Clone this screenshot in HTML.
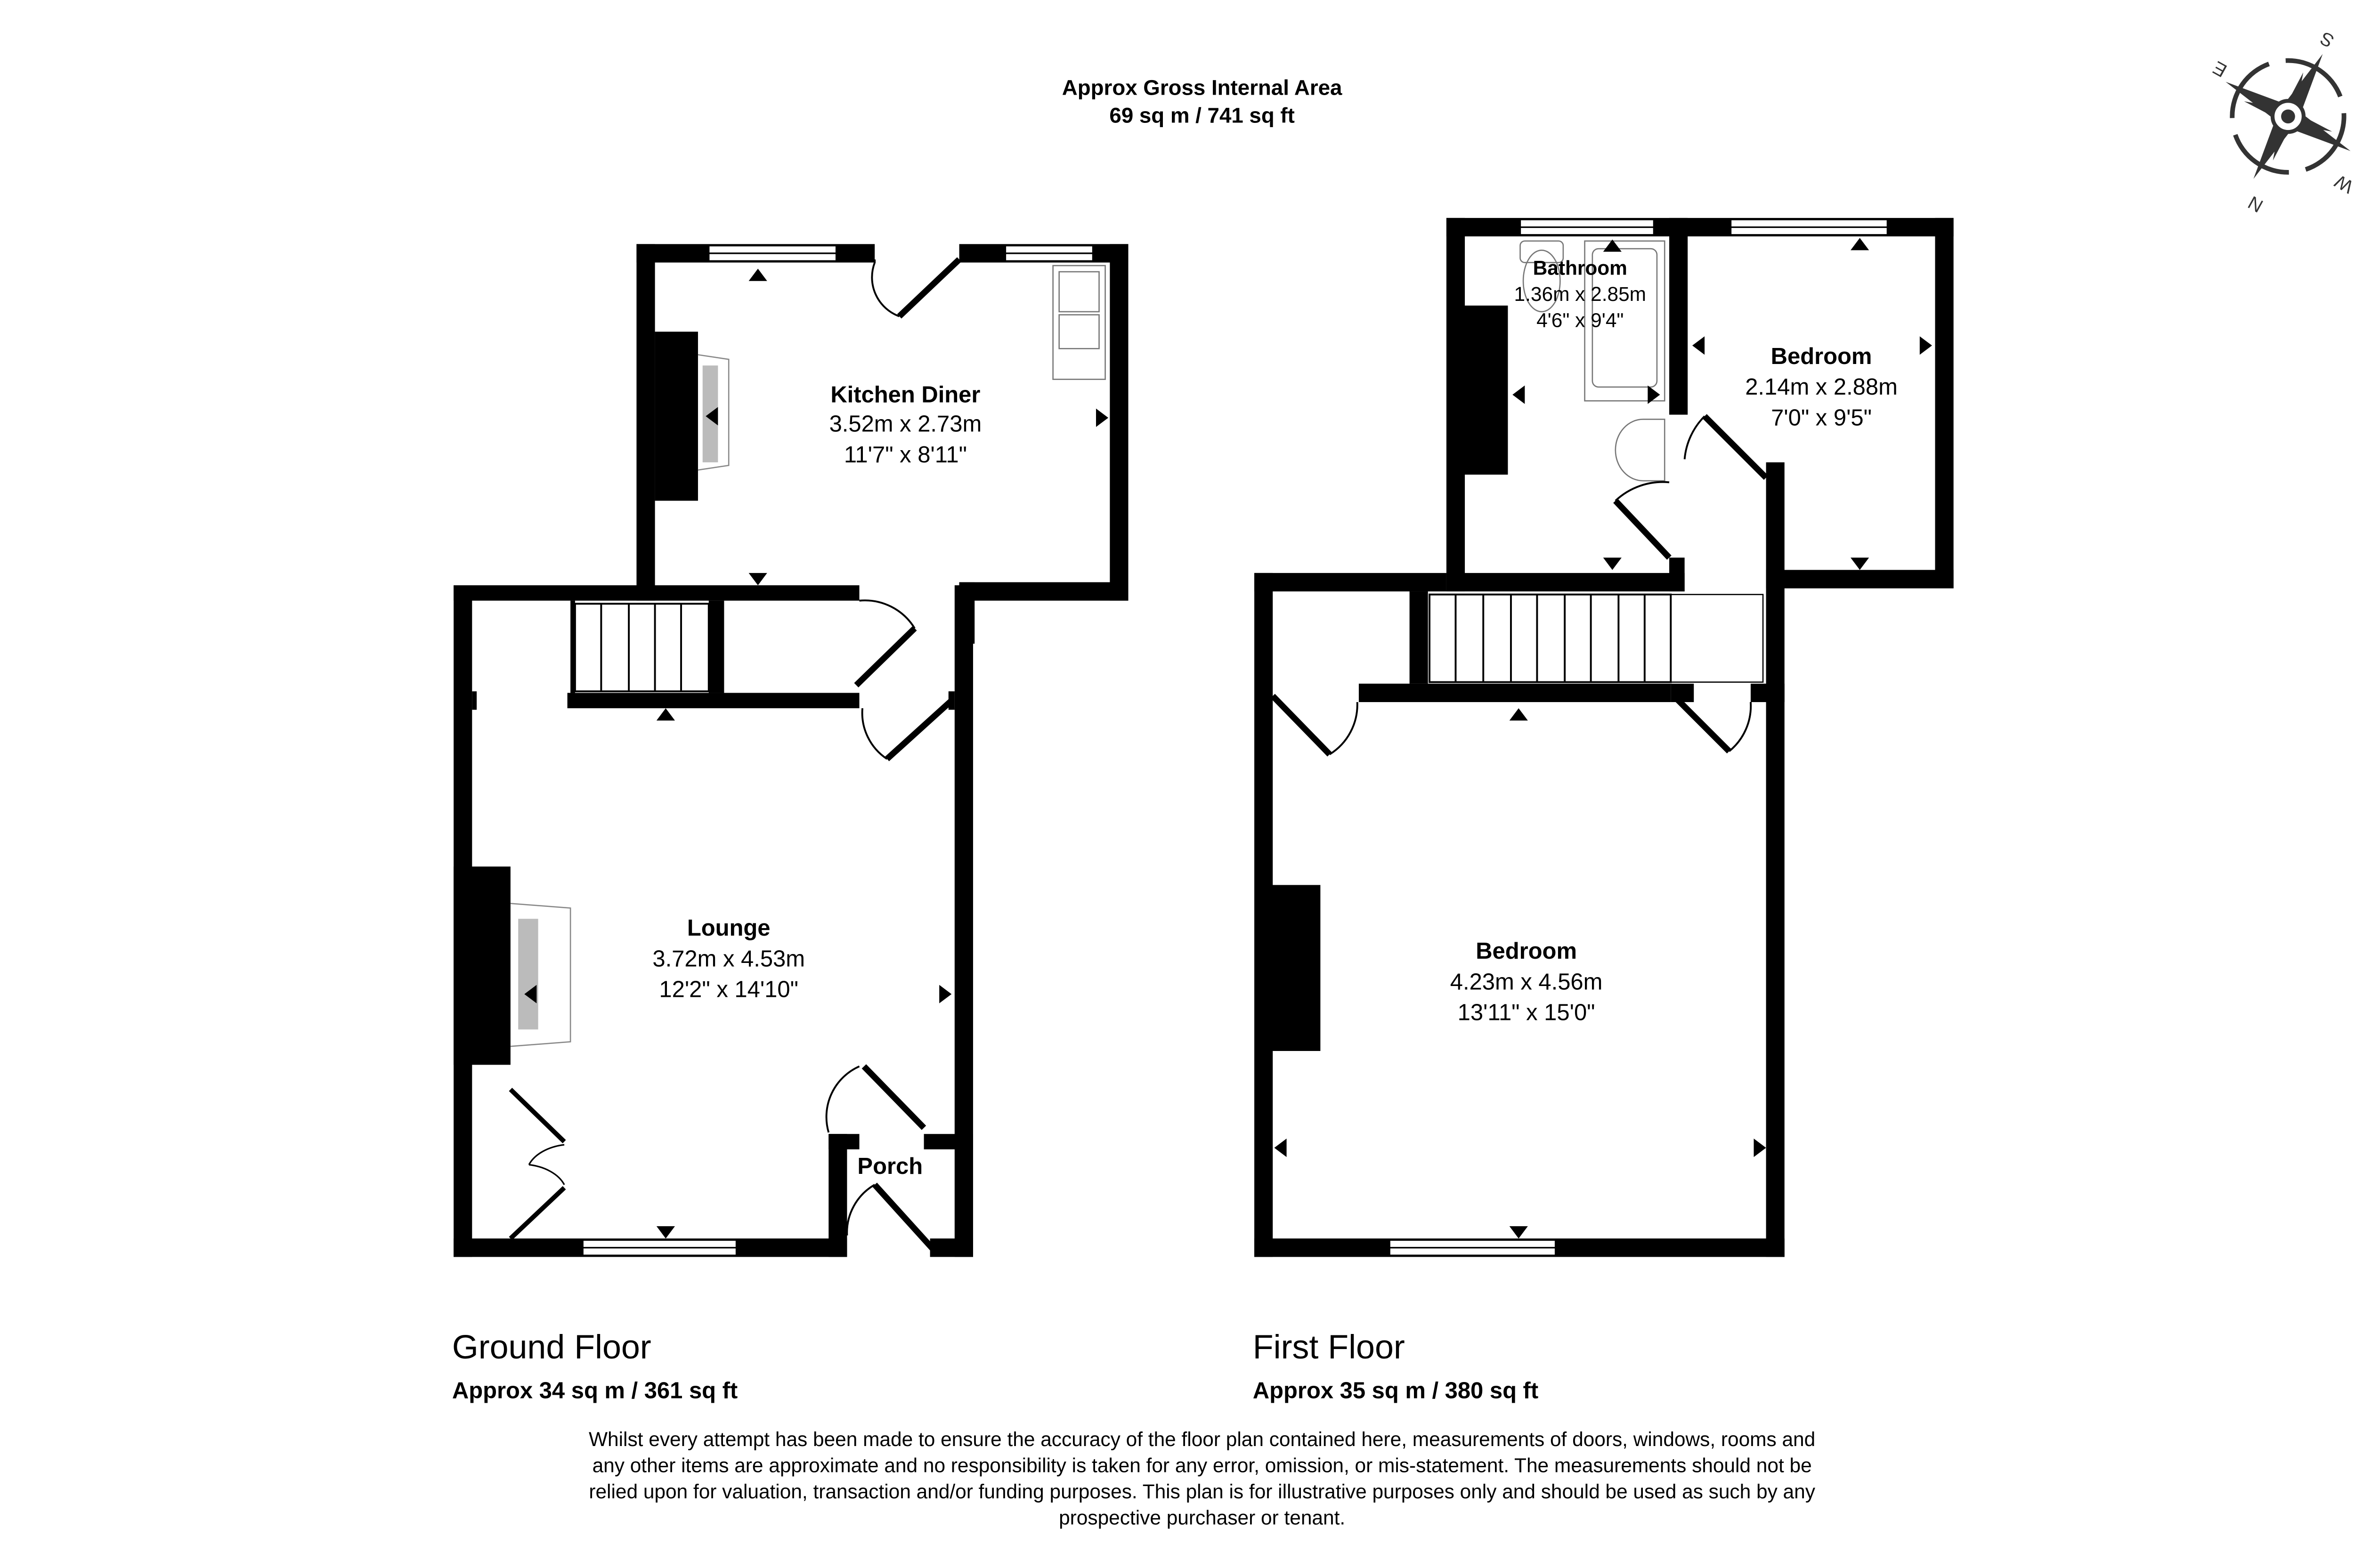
<!DOCTYPE html>
<html><head><meta charset="utf-8"><style>html,body{margin:0;padding:0;background:#fff}svg{display:block}</style></head><body>
<svg width="5115" height="3330" viewBox="0 0 1552 1010" preserveAspectRatio="none" xmlns="http://www.w3.org/2000/svg" font-family="Liberation Sans, Arial, sans-serif">
<rect width="1552" height="1010" fill="#fff"/>
<g transform="translate(-0.8,0.8) scale(0.990)">
<g fill="#000">
<rect x="415" y="158" width="12" height="232"/>
<rect x="415" y="158" width="155" height="12"/>
<rect x="625" y="158" width="110" height="12"/>
<rect x="723" y="158" width="12" height="232"/>
<rect x="625" y="378" width="110" height="12"/>
<rect x="625" y="378" width="10" height="40"/>
<rect x="296" y="380" width="264" height="10"/>
<rect x="296" y="380" width="12" height="437"/>
<rect x="308" y="449" width="3" height="12"/>
<rect x="296" y="805" width="256" height="12"/>
<rect x="622" y="380" width="12" height="437"/>
<rect x="618" y="449" width="4" height="12"/>
<rect x="540" y="737" width="12" height="80"/>
<rect x="540" y="737" width="20" height="10"/>
<rect x="602" y="737" width="32" height="10"/>
<rect x="606" y="805" width="28" height="12"/>
<rect x="370" y="450" width="190" height="10"/>
<rect x="462" y="390" width="10" height="60"/>
<rect x="372" y="390" width="3" height="60"/>
<rect x="296" y="563" width="37" height="129"/>
<rect x="427" y="215" width="28" height="110"/>
<rect x="817" y="372" width="12" height="445"/>
<rect x="817" y="372" width="125" height="12"/>
<rect x="817" y="805" width="345" height="12"/>
<rect x="1150" y="300" width="12" height="517"/>
<rect x="885" y="444" width="203" height="12"/>
<rect x="918" y="384" width="12" height="60"/>
<rect x="942" y="141" width="12" height="243"/>
<rect x="942" y="141" width="330" height="12"/>
<rect x="1087" y="141" width="12" height="128"/>
<rect x="1260" y="141" width="12" height="241"/>
<rect x="1150" y="370" width="122" height="12"/>
<rect x="942" y="372" width="155" height="12"/>
<rect x="1087" y="362" width="10" height="22"/>
<rect x="1088" y="444" width="15" height="12"/>
<rect x="1140" y="444" width="22" height="12"/>
<rect x="827" y="575" width="33" height="108"/>
<rect x="952" y="198" width="30" height="110"/>
</g>
<g fill="#fff" stroke="#000" stroke-width="1">
<rect x="462" y="159" width="83" height="10"/><line x1="462" y1="164" x2="545" y2="164"/>
<rect x="655" y="159" width="57" height="10"/><line x1="655" y1="164" x2="712" y2="164"/>
<rect x="380" y="806" width="100" height="10"/><line x1="380" y1="811" x2="480" y2="811"/>
<rect x="905" y="806" width="108" height="10"/><line x1="905" y1="811" x2="1013" y2="811"/>
<rect x="990" y="142" width="87" height="10"/><line x1="990" y1="147" x2="1077" y2="147"/>
<rect x="1127" y="142" width="102" height="10"/><line x1="1127" y1="147" x2="1229" y2="147"/>
</g>
<g stroke="#000" stroke-width="1.2" fill="none">
<rect x="375" y="392" width="87" height="57"/>
<line x1="392" y1="392" x2="392" y2="449"/><line x1="410" y1="392" x2="410" y2="449"/><line x1="427" y1="392" x2="427" y2="449"/><line x1="444" y1="392" x2="444" y2="449"/>
<rect x="931" y="386" width="157" height="57"/>
<line x1="948" y1="386" x2="948" y2="443"/><line x1="966" y1="386" x2="966" y2="443"/><line x1="984" y1="386" x2="984" y2="443"/><line x1="1001" y1="386" x2="1001" y2="443"/><line x1="1019" y1="386" x2="1019" y2="443"/><line x1="1036" y1="386" x2="1036" y2="443"/><line x1="1054" y1="386" x2="1054" y2="443"/><line x1="1071" y1="386" x2="1071" y2="443"/>
<rect x="1088" y="386" width="60" height="57" stroke-width="0.8"/>
</g>
<g fill="#bbb"><rect x="338" y="597" width="13" height="72"/><rect x="458" y="237" width="10" height="63"/></g>
<g fill="none" stroke="#888" stroke-width="0.8"><path d="M333 587 L372 590 L372 677 L333 680"/><path d="M455 230 L475 233 L475 302 L455 305"/></g>
<g fill="none" stroke="#777" stroke-width="0.8">
<rect x="686" y="172" width="34" height="74"/><rect x="690" y="176" width="26" height="26"/><rect x="690" y="204" width="26" height="22"/>
<rect x="990" y="156" width="28" height="14" rx="3"/><ellipse cx="1004" cy="182" rx="12" ry="20"/>
<rect x="1032" y="156" width="52" height="104"/><rect x="1037" y="161" width="42" height="90" rx="4"/>
<path d="M1084 272 L1084 312 L1070 312 A18 20 0 0 1 1070 272 Z"/>
</g>
<g fill="none" stroke="#000">
<path d="M570 168 L570 170 A27 27 0 0 0 586 205" stroke-width="1.2"/><path d="M586 205 L625 168" stroke-width="4"/>
<path d="M560 390 A38 38 0 0 1 596 408" stroke-width="1.2"/><path d="M596 408 L558 445" stroke-width="4"/>
<path d="M562 460 A36 36 0 0 0 578 493" stroke-width="1.2"/><path d="M578 493 L620 455" stroke-width="4"/>
<path d="M540 736 A36 36 0 0 1 560 693" stroke-width="1.2"/><path d="M563 693 L602 733" stroke-width="4"/>
<path d="M552 803 A36 36 0 0 1 570 770" stroke-width="1.2"/><path d="M570 770 L608 812" stroke-width="4"/>
<path d="M333 708 L368 742 M368 772 L333 805" stroke-width="3"/>
<path d="M345 757 A30 20 0 0 1 368 744 M345 757 A30 20 0 0 1 368 770" stroke-width="1"/>
<path d="M829 452 L866 490" stroke-width="4"/><path d="M866 490 A38 38 0 0 0 884 456" stroke-width="1.2"/>
<path d="M1090 452 L1126 488" stroke-width="4"/><path d="M1126 488 A38 38 0 0 0 1140 456" stroke-width="1.2"/>
<path d="M1087 362 L1052 325" stroke-width="4"/><path d="M1052 325 A45 45 0 0 1 1087 313" stroke-width="1.2"/>
<path d="M1097 298 A45 45 0 0 1 1110 270" stroke-width="1.2"/><path d="M1110 270 L1150 310" stroke-width="4"/>
</g>
<g fill="#000">
<path d="M488 182 l6 -8 l6 8z"/><path d="M488 372 l6 8 l6 -8z"/><path d="M714 265 l8 6 l-8 6z"/>
<path d="M428 468 l6 -8 l6 8z"/><path d="M612 640 l8 6 l-8 6z"/><path d="M428 797 l6 8 l6 -8z"/><path d="M350 640 l-8 6 l8 6z"/><path d="M468 264 l-8 6 l8 6z"/>
<path d="M983 468 l6 -8 l6 8z"/><path d="M983 797 l6 8 l6 -8z"/><path d="M838 740 l-8 6 l8 6z"/><path d="M1142 740 l8 6 l-8 6z"/>
<path d="M1044 163 l6 -8 l6 8z"/><path d="M1044 362 l6 8 l6 -8z"/><path d="M993 250 l-8 6 l8 6z"/><path d="M1073 250 l8 6 l-8 6z"/>
<path d="M1205 162 l6 -8 l6 8z"/><path d="M1205 362 l6 8 l6 -8z"/><path d="M1110 218 l-8 6 l8 6z"/><path d="M1250 218 l8 6 l-8 6z"/>
</g>
<g text-anchor="middle" fill="#000">
<text x="783" y="61" font-size="14" font-weight="bold">Approx Gross Internal Area</text>
<text x="783" y="79" font-size="14" font-weight="bold">69 sq m / 741 sq ft</text>
<text x="590" y="261" font-size="15" font-weight="bold">Kitchen Diner</text>
<text x="590" y="280" font-size="15">3.52m x 2.73m</text>
<text x="590" y="300" font-size="15">11'7" x 8'11"</text>
<text x="475" y="608" font-size="15" font-weight="bold">Lounge</text>
<text x="475" y="628" font-size="15">3.72m x 4.53m</text>
<text x="475" y="648" font-size="15">12'2" x 14'10"</text>
<text x="580" y="763" font-size="15" font-weight="bold">Porch</text>
<text x="994" y="623" font-size="15" font-weight="bold">Bedroom</text>
<text x="994" y="643" font-size="15">4.23m x 4.56m</text>
<text x="994" y="663" font-size="15">13'11" x 15'0"</text>
<text x="1186" y="236" font-size="15" font-weight="bold">Bedroom</text>
<text x="1186" y="256" font-size="15">2.14m x 2.88m</text>
<text x="1186" y="276" font-size="15">7'0" x 9'5"</text>
<text x="1029" y="178" font-size="13" font-weight="bold">Bathroom</text>
<text x="1029" y="195" font-size="13">1.36m x 2.85m</text>
<text x="1029" y="212" font-size="13">4'6" x 9'4"</text>
<g font-size="13"><text x="783" y="940">Whilst every attempt has been made to ensure the accuracy of the floor plan contained here, measurements of doors, windows, rooms and</text>
<text x="783" y="957">any other items are approximate and no responsibility is taken for any error, omission, or mis-statement. The measurements should not be</text>
<text x="783" y="974">relied upon for valuation, transaction and/or funding purposes. This plan is for illustrative purposes only and should be used as such by any</text>
<text x="783" y="991">prospective purchaser or tenant.</text></g>
</g>
<text x="295" y="883" font-size="22">Ground Floor</text>
<text x="295" y="909" font-size="15" font-weight="bold">Approx 34 sq m / 361 sq ft</text>
<text x="816" y="883" font-size="22">First Floor</text>
<text x="816" y="909" font-size="15" font-weight="bold">Approx 35 sq m / 380 sq ft</text>
</g>
<g transform="translate(1474,75)" fill="#333">
<circle r="36" fill="none" stroke="#333" stroke-width="3" stroke-dasharray="45 11"/>
<g transform="rotate(19)"><path d="M0 -30 L4 -4 L30 0 L4 4 L0 30 L-4 4 L-30 0 L-4 -4Z"/></g>
<g transform="rotate(29)"><path d="M0 -46 L7 0 L0 46 L-7 0Z"/><path d="M-46 0 L0 7 L46 0 L0 -7Z"/></g>
<circle r="10" fill="#fff" stroke="#333" stroke-width="2.5"/><circle r="4.5"/>
<g font-size="12" text-anchor="middle">
<text transform="translate(27,-53) rotate(209)">S</text>
<text transform="translate(-42,-34) rotate(209)">E</text>
<text transform="translate(38,40) rotate(209)">W</text>
<text transform="translate(-19,53) rotate(209)">N</text>
</g>
</g>
</svg>
</body></html>
